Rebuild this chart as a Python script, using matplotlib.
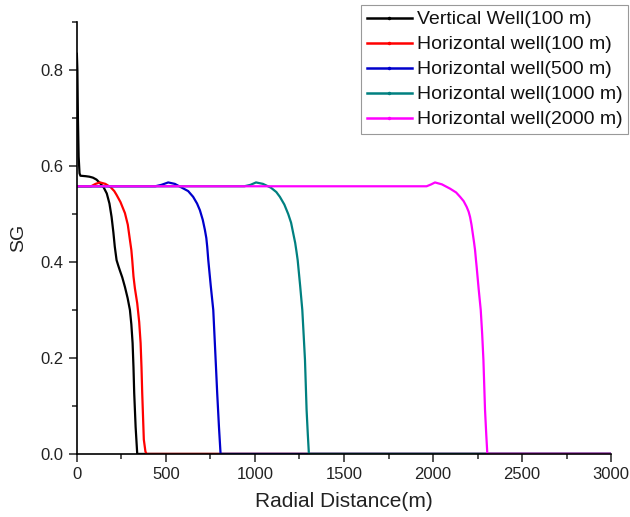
import matplotlib
matplotlib.use("Agg")
import matplotlib.pyplot as plt
from matplotlib.lines import Line2D
from matplotlib.ticker import MultipleLocator

plt.rcParams['font.family'] = ['Liberation Sans', 'DejaVu Sans']

labels = ["Vertical Well(100 m)", "Horizontal well(100 m)", "Horizontal well(500 m)",
          "Horizontal well(1000 m)", "Horizontal well(2000 m)"]
colors = ["#000000", "#FF0000", "#0000CC", "#008080", "#FF00FF"]

vw100_x = [0, 3, 6, 10, 15, 20, 50, 70, 90, 110, 129, 150, 168, 183, 195, 205, 213, 223, 233, 241, 255, 270, 285, 298, 306, 313, 318, 322, 330, 339, 3000]
vw100_y = [0.835, 0.80, 0.70, 0.62, 0.585, 0.580, 0.579, 0.578, 0.576, 0.572, 0.565, 0.556, 0.543, 0.522, 0.494, 0.462, 0.432, 0.404, 0.392, 0.383, 0.368, 0.348, 0.325, 0.300, 0.270, 0.231, 0.180, 0.127, 0.056, 0.0, 0.0]

hw100_x = [0, 80, 105, 130, 160, 190, 210, 223, 245, 270, 286, 298, 306, 311, 318, 326, 339, 350, 358, 363, 367, 376, 385, 391, 3000]
hw100_y = [0.558, 0.558, 0.563, 0.566, 0.563, 0.556, 0.548, 0.540, 0.525, 0.502, 0.478, 0.446, 0.425, 0.404, 0.370, 0.345, 0.314, 0.275, 0.231, 0.180, 0.127, 0.030, 0.005, 0.0, 0.0]

hw500_x = [0, 440, 475, 513, 550, 590, 625, 653, 675, 691, 707, 719, 727, 732, 738, 752, 766, 775, 782, 788, 798, 807, 3000]
hw500_y = [0.558, 0.558, 0.561, 0.566, 0.563, 0.555, 0.548, 0.536, 0.522, 0.508, 0.488, 0.467, 0.450, 0.432, 0.404, 0.350, 0.300, 0.230, 0.175, 0.127, 0.056, 0.0, 0.0]

hw1000_x = [0, 940, 975, 1006, 1045, 1090, 1120, 1140, 1165, 1187, 1203, 1215, 1226, 1234, 1240, 1254, 1266, 1274, 1281, 1290, 1297, 1303, 3000]
hw1000_y = [0.558, 0.558, 0.561, 0.566, 0.563, 0.555, 0.546, 0.536, 0.520, 0.500, 0.482, 0.460, 0.440, 0.420, 0.404, 0.350, 0.300, 0.245, 0.196, 0.092, 0.040, 0.0, 0.0]

hw2000_x = [0, 1964, 1990, 2011, 2050, 2096, 2130, 2152, 2172, 2189, 2200, 2208, 2216, 2223, 2230, 2236, 2241, 2245, 2256, 2268, 2276, 2283, 2292, 2299, 2305, 3000]
hw2000_y = [0.558, 0.558, 0.562, 0.566, 0.562, 0.553, 0.545, 0.536, 0.527, 0.515, 0.505, 0.494, 0.478, 0.460, 0.442, 0.425, 0.405, 0.390, 0.345, 0.300, 0.250, 0.196, 0.092, 0.040, 0.0, 0.0]

series = [(vw100_x, vw100_y), (hw100_x, hw100_y), (hw500_x, hw500_y),
          (hw1000_x, hw1000_y), (hw2000_x, hw2000_y)]

fig = plt.figure(figsize=(6.3, 5.17), dpi=100)
ax = fig.add_axes([0.122, 0.122, 0.848, 0.835])

for (xs, ys), c in zip(series, colors):
    ax.plot(xs, ys, color=c, lw=1.6, solid_joinstyle='round', solid_capstyle='round')

ax.set_xlim(0, 3000)
ax.set_ylim(0, 0.9)
ax.spines['top'].set_visible(False)
ax.spines['right'].set_visible(False)
ax.spines['left'].set_linewidth(1.2)
ax.spines['bottom'].set_linewidth(1.2)
ax.xaxis.set_major_locator(MultipleLocator(500))
ax.xaxis.set_minor_locator(MultipleLocator(250))
ax.yaxis.set_minor_locator(MultipleLocator(0.1))
ax.set_yticks([0, 0.2, 0.4, 0.6, 0.8])
ax.set_yticklabels(["0.0", "0.2", "0.4", "0.6", "0.8"])
ax.tick_params(which='major', direction='out', length=5.5, width=1.2, labelsize=12, pad=4, color='#333333', labelcolor='#222222')
ax.tick_params(which='minor', direction='out', length=3.5, width=1.2, color='#333333')
ax.set_xlabel("Radial Distance(m)", fontsize=15, labelpad=7, color='#222222')
ax.set_ylabel("SG", fontsize=14, labelpad=10, color='#222222')

handles = [Line2D([0], [0], color=c, lw=1.8, marker='.', markersize=3) for c in colors]
leg = fig.legend(handles, labels, loc='upper right', bbox_to_anchor=(628/630, 1 - 5/517),
                 fontsize=14.0, frameon=True, fancybox=False, framealpha=1,
                 edgecolor='#999999', labelspacing=0.38, handlelength=2.3,
                 handletextpad=0.25, borderpad=0.3, borderaxespad=0)
leg.get_frame().set_linewidth(0.8)
for t in leg.get_texts():
    t.set_color('#111111')

fig.savefig("out.png", dpi=100)
